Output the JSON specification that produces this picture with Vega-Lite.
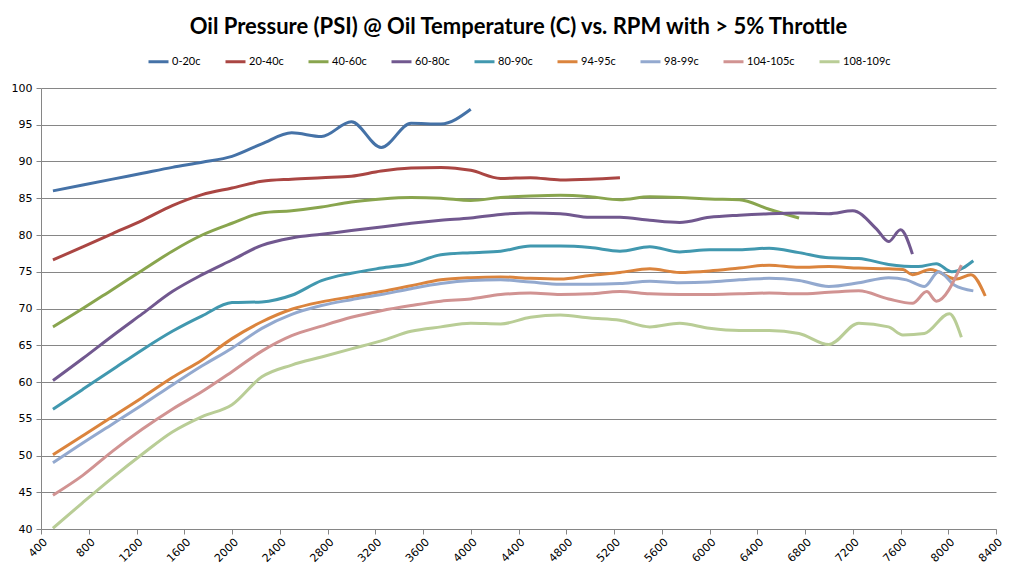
{
  "$schema": "https://vega.github.io/schema/vega-lite/v6.json",
  "title": {
    "text": "Oil Pressure (PSI) @ Oil Temperature (C) vs. RPM with > 5% Throttle",
    "font": "Lato",
    "fontSize": 22,
    "fontWeight": "bold",
    "color": "black",
    "anchor": "middle",
    "offset": 11
  },
  "config": {
    "background": "white",
    "view": {"stroke": null},
    "axis": {
      "labelFont": "DejaVu Sans",
      "labelFontSize": 11,
      "labelColor": "#000000",
      "domainColor": "#868686",
      "tickColor": "#868686",
      "gridColor": "#868686",
      "tickSize": 5,
      "title": null
    },
    "legend": {
      "labelFont": "Lato",
      "labelFontSize": 11,
      "labelColor": "#000000",
      "layout": {"top": {"anchor": "middle"}}
    }
  },
  "autosize": {"type": "none"},
  "padding": {"left": 41, "top": 88, "right": 29, "bottom": 48},
  "width": 955,
  "height": 441,
  "data": {
    "values": [
      {"s": "0-20c", "rpm": 500, "psi": 86.0},
      {"s": "0-20c", "rpm": 750, "psi": 86.8},
      {"s": "0-20c", "rpm": 1000, "psi": 87.6},
      {"s": "0-20c", "rpm": 1250, "psi": 88.4},
      {"s": "0-20c", "rpm": 1500, "psi": 89.2},
      {"s": "0-20c", "rpm": 1750, "psi": 89.9},
      {"s": "0-20c", "rpm": 2000, "psi": 90.7},
      {"s": "0-20c", "rpm": 2250, "psi": 92.4},
      {"s": "0-20c", "rpm": 2500, "psi": 93.9},
      {"s": "0-20c", "rpm": 2750, "psi": 93.4},
      {"s": "0-20c", "rpm": 3000, "psi": 95.4},
      {"s": "0-20c", "rpm": 3250, "psi": 91.9},
      {"s": "0-20c", "rpm": 3500, "psi": 95.2},
      {"s": "0-20c", "rpm": 3750, "psi": 95.1},
      {"s": "0-20c", "rpm": 4000, "psi": 97.1},

      {"s": "20-40c", "rpm": 500, "psi": 76.6},
      {"s": "20-40c", "rpm": 750, "psi": 78.4},
      {"s": "20-40c", "rpm": 1000, "psi": 80.2},
      {"s": "20-40c", "rpm": 1250, "psi": 82.0},
      {"s": "20-40c", "rpm": 1500, "psi": 84.0},
      {"s": "20-40c", "rpm": 1750, "psi": 85.5},
      {"s": "20-40c", "rpm": 2000, "psi": 86.4},
      {"s": "20-40c", "rpm": 2250, "psi": 87.3},
      {"s": "20-40c", "rpm": 2500, "psi": 87.6},
      {"s": "20-40c", "rpm": 2750, "psi": 87.8},
      {"s": "20-40c", "rpm": 3000, "psi": 88.0},
      {"s": "20-40c", "rpm": 3250, "psi": 88.7},
      {"s": "20-40c", "rpm": 3500, "psi": 89.1},
      {"s": "20-40c", "rpm": 3750, "psi": 89.2},
      {"s": "20-40c", "rpm": 4000, "psi": 88.8},
      {"s": "20-40c", "rpm": 4250, "psi": 87.7},
      {"s": "20-40c", "rpm": 4500, "psi": 87.8},
      {"s": "20-40c", "rpm": 4750, "psi": 87.5},
      {"s": "20-40c", "rpm": 5000, "psi": 87.6},
      {"s": "20-40c", "rpm": 5250, "psi": 87.8},

      {"s": "40-60c", "rpm": 500, "psi": 67.5},
      {"s": "40-60c", "rpm": 750, "psi": 70.0},
      {"s": "40-60c", "rpm": 1000, "psi": 72.6},
      {"s": "40-60c", "rpm": 1250, "psi": 75.2},
      {"s": "40-60c", "rpm": 1500, "psi": 77.8},
      {"s": "40-60c", "rpm": 1750, "psi": 80.0},
      {"s": "40-60c", "rpm": 2000, "psi": 81.6},
      {"s": "40-60c", "rpm": 2250, "psi": 83.0},
      {"s": "40-60c", "rpm": 2500, "psi": 83.3},
      {"s": "40-60c", "rpm": 2750, "psi": 83.8},
      {"s": "40-60c", "rpm": 3000, "psi": 84.5},
      {"s": "40-60c", "rpm": 3250, "psi": 84.9},
      {"s": "40-60c", "rpm": 3500, "psi": 85.1},
      {"s": "40-60c", "rpm": 3750, "psi": 85.0},
      {"s": "40-60c", "rpm": 4000, "psi": 84.7},
      {"s": "40-60c", "rpm": 4250, "psi": 85.1},
      {"s": "40-60c", "rpm": 4500, "psi": 85.3},
      {"s": "40-60c", "rpm": 4750, "psi": 85.4},
      {"s": "40-60c", "rpm": 5000, "psi": 85.2},
      {"s": "40-60c", "rpm": 5250, "psi": 84.8},
      {"s": "40-60c", "rpm": 5500, "psi": 85.2},
      {"s": "40-60c", "rpm": 5750, "psi": 85.1},
      {"s": "40-60c", "rpm": 6000, "psi": 84.9},
      {"s": "40-60c", "rpm": 6250, "psi": 84.8},
      {"s": "40-60c", "rpm": 6500, "psi": 83.5},
      {"s": "40-60c", "rpm": 6750, "psi": 82.3},

      {"s": "60-80c", "rpm": 500, "psi": 60.2},
      {"s": "60-80c", "rpm": 750, "psi": 63.2},
      {"s": "60-80c", "rpm": 1000, "psi": 66.3},
      {"s": "60-80c", "rpm": 1250, "psi": 69.3},
      {"s": "60-80c", "rpm": 1500, "psi": 72.3},
      {"s": "60-80c", "rpm": 1750, "psi": 74.6},
      {"s": "60-80c", "rpm": 2000, "psi": 76.6},
      {"s": "60-80c", "rpm": 2250, "psi": 78.6},
      {"s": "60-80c", "rpm": 2500, "psi": 79.6},
      {"s": "60-80c", "rpm": 2750, "psi": 80.1},
      {"s": "60-80c", "rpm": 3000, "psi": 80.6},
      {"s": "60-80c", "rpm": 3250, "psi": 81.1},
      {"s": "60-80c", "rpm": 3500, "psi": 81.6},
      {"s": "60-80c", "rpm": 3750, "psi": 82.0},
      {"s": "60-80c", "rpm": 4000, "psi": 82.3},
      {"s": "60-80c", "rpm": 4250, "psi": 82.8},
      {"s": "60-80c", "rpm": 4500, "psi": 83.0},
      {"s": "60-80c", "rpm": 4750, "psi": 82.9},
      {"s": "60-80c", "rpm": 5000, "psi": 82.4},
      {"s": "60-80c", "rpm": 5250, "psi": 82.4},
      {"s": "60-80c", "rpm": 5500, "psi": 82.0},
      {"s": "60-80c", "rpm": 5750, "psi": 81.7},
      {"s": "60-80c", "rpm": 6000, "psi": 82.4},
      {"s": "60-80c", "rpm": 6250, "psi": 82.7},
      {"s": "60-80c", "rpm": 6500, "psi": 82.9},
      {"s": "60-80c", "rpm": 6750, "psi": 83.0},
      {"s": "60-80c", "rpm": 7000, "psi": 82.9},
      {"s": "60-80c", "rpm": 7200, "psi": 83.3},
      {"s": "60-80c", "rpm": 7400, "psi": 80.8},
      {"s": "60-80c", "rpm": 7500, "psi": 79.1},
      {"s": "60-80c", "rpm": 7600, "psi": 80.7},
      {"s": "60-80c", "rpm": 7700, "psi": 77.4},

      {"s": "80-90c", "rpm": 500, "psi": 56.3},
      {"s": "80-90c", "rpm": 750, "psi": 59.0},
      {"s": "80-90c", "rpm": 1000, "psi": 61.7},
      {"s": "80-90c", "rpm": 1250, "psi": 64.4},
      {"s": "80-90c", "rpm": 1500, "psi": 66.9},
      {"s": "80-90c", "rpm": 1750, "psi": 69.0},
      {"s": "80-90c", "rpm": 2000, "psi": 70.8},
      {"s": "80-90c", "rpm": 2250, "psi": 70.9},
      {"s": "80-90c", "rpm": 2500, "psi": 71.8},
      {"s": "80-90c", "rpm": 2750, "psi": 73.8},
      {"s": "80-90c", "rpm": 3000, "psi": 74.8},
      {"s": "80-90c", "rpm": 3250, "psi": 75.5},
      {"s": "80-90c", "rpm": 3500, "psi": 76.1},
      {"s": "80-90c", "rpm": 3750, "psi": 77.3},
      {"s": "80-90c", "rpm": 4000, "psi": 77.6},
      {"s": "80-90c", "rpm": 4250, "psi": 77.8},
      {"s": "80-90c", "rpm": 4500, "psi": 78.5},
      {"s": "80-90c", "rpm": 4750, "psi": 78.5},
      {"s": "80-90c", "rpm": 5000, "psi": 78.3},
      {"s": "80-90c", "rpm": 5250, "psi": 77.8},
      {"s": "80-90c", "rpm": 5500, "psi": 78.4},
      {"s": "80-90c", "rpm": 5750, "psi": 77.7},
      {"s": "80-90c", "rpm": 6000, "psi": 78.0},
      {"s": "80-90c", "rpm": 6250, "psi": 78.0},
      {"s": "80-90c", "rpm": 6500, "psi": 78.2},
      {"s": "80-90c", "rpm": 6750, "psi": 77.6},
      {"s": "80-90c", "rpm": 7000, "psi": 76.9},
      {"s": "80-90c", "rpm": 7250, "psi": 76.8},
      {"s": "80-90c", "rpm": 7500, "psi": 76.0},
      {"s": "80-90c", "rpm": 7750, "psi": 75.7},
      {"s": "80-90c", "rpm": 7900, "psi": 76.1},
      {"s": "80-90c", "rpm": 8030, "psi": 75.0},
      {"s": "80-90c", "rpm": 8210, "psi": 76.5},

      {"s": "94-95c", "rpm": 500, "psi": 50.1},
      {"s": "94-95c", "rpm": 750, "psi": 52.7},
      {"s": "94-95c", "rpm": 1000, "psi": 55.3},
      {"s": "94-95c", "rpm": 1250, "psi": 57.9},
      {"s": "94-95c", "rpm": 1500, "psi": 60.6},
      {"s": "94-95c", "rpm": 1750, "psi": 63.0},
      {"s": "94-95c", "rpm": 2000, "psi": 65.9},
      {"s": "94-95c", "rpm": 2250, "psi": 68.2},
      {"s": "94-95c", "rpm": 2500, "psi": 69.9},
      {"s": "94-95c", "rpm": 2750, "psi": 70.9},
      {"s": "94-95c", "rpm": 3000, "psi": 71.6},
      {"s": "94-95c", "rpm": 3250, "psi": 72.3},
      {"s": "94-95c", "rpm": 3500, "psi": 73.1},
      {"s": "94-95c", "rpm": 3750, "psi": 73.9},
      {"s": "94-95c", "rpm": 4000, "psi": 74.2},
      {"s": "94-95c", "rpm": 4250, "psi": 74.3},
      {"s": "94-95c", "rpm": 4500, "psi": 74.1},
      {"s": "94-95c", "rpm": 4750, "psi": 74.0},
      {"s": "94-95c", "rpm": 5000, "psi": 74.5},
      {"s": "94-95c", "rpm": 5250, "psi": 74.9},
      {"s": "94-95c", "rpm": 5500, "psi": 75.4},
      {"s": "94-95c", "rpm": 5750, "psi": 74.9},
      {"s": "94-95c", "rpm": 6000, "psi": 75.1},
      {"s": "94-95c", "rpm": 6250, "psi": 75.5},
      {"s": "94-95c", "rpm": 6500, "psi": 75.9},
      {"s": "94-95c", "rpm": 6750, "psi": 75.6},
      {"s": "94-95c", "rpm": 7000, "psi": 75.7},
      {"s": "94-95c", "rpm": 7250, "psi": 75.5},
      {"s": "94-95c", "rpm": 7500, "psi": 75.4},
      {"s": "94-95c", "rpm": 7620, "psi": 75.3},
      {"s": "94-95c", "rpm": 7700, "psi": 74.6},
      {"s": "94-95c", "rpm": 7850, "psi": 75.3},
      {"s": "94-95c", "rpm": 8070, "psi": 74.0},
      {"s": "94-95c", "rpm": 8190, "psi": 74.6},
      {"s": "94-95c", "rpm": 8310, "psi": 71.7},

      {"s": "98-99c", "rpm": 500, "psi": 49.0},
      {"s": "98-99c", "rpm": 750, "psi": 51.7},
      {"s": "98-99c", "rpm": 1000, "psi": 54.3},
      {"s": "98-99c", "rpm": 1250, "psi": 56.9},
      {"s": "98-99c", "rpm": 1500, "psi": 59.6},
      {"s": "98-99c", "rpm": 1750, "psi": 62.2},
      {"s": "98-99c", "rpm": 2000, "psi": 64.6},
      {"s": "98-99c", "rpm": 2250, "psi": 67.3},
      {"s": "98-99c", "rpm": 2500, "psi": 69.2},
      {"s": "98-99c", "rpm": 2750, "psi": 70.4},
      {"s": "98-99c", "rpm": 3000, "psi": 71.2},
      {"s": "98-99c", "rpm": 3250, "psi": 71.9},
      {"s": "98-99c", "rpm": 3500, "psi": 72.7},
      {"s": "98-99c", "rpm": 3750, "psi": 73.4},
      {"s": "98-99c", "rpm": 4000, "psi": 73.8},
      {"s": "98-99c", "rpm": 4250, "psi": 73.9},
      {"s": "98-99c", "rpm": 4500, "psi": 73.6},
      {"s": "98-99c", "rpm": 4750, "psi": 73.3},
      {"s": "98-99c", "rpm": 5000, "psi": 73.3},
      {"s": "98-99c", "rpm": 5250, "psi": 73.4},
      {"s": "98-99c", "rpm": 5500, "psi": 73.7},
      {"s": "98-99c", "rpm": 5750, "psi": 73.5},
      {"s": "98-99c", "rpm": 6000, "psi": 73.6},
      {"s": "98-99c", "rpm": 6250, "psi": 73.9},
      {"s": "98-99c", "rpm": 6500, "psi": 74.1},
      {"s": "98-99c", "rpm": 6750, "psi": 73.8},
      {"s": "98-99c", "rpm": 7000, "psi": 73.0},
      {"s": "98-99c", "rpm": 7250, "psi": 73.5},
      {"s": "98-99c", "rpm": 7500, "psi": 74.2},
      {"s": "98-99c", "rpm": 7650, "psi": 73.9},
      {"s": "98-99c", "rpm": 7800, "psi": 73.0},
      {"s": "98-99c", "rpm": 7920, "psi": 75.0},
      {"s": "98-99c", "rpm": 8050, "psi": 73.2},
      {"s": "98-99c", "rpm": 8210, "psi": 72.4},

      {"s": "104-105c", "rpm": 500, "psi": 44.6},
      {"s": "104-105c", "rpm": 750, "psi": 47.3},
      {"s": "104-105c", "rpm": 1000, "psi": 50.6},
      {"s": "104-105c", "rpm": 1250, "psi": 53.6},
      {"s": "104-105c", "rpm": 1500, "psi": 56.3},
      {"s": "104-105c", "rpm": 1750, "psi": 58.7},
      {"s": "104-105c", "rpm": 2000, "psi": 61.4},
      {"s": "104-105c", "rpm": 2250, "psi": 64.2},
      {"s": "104-105c", "rpm": 2500, "psi": 66.3},
      {"s": "104-105c", "rpm": 2750, "psi": 67.6},
      {"s": "104-105c", "rpm": 3000, "psi": 68.8},
      {"s": "104-105c", "rpm": 3250, "psi": 69.7},
      {"s": "104-105c", "rpm": 3500, "psi": 70.4},
      {"s": "104-105c", "rpm": 3750, "psi": 71.0},
      {"s": "104-105c", "rpm": 4000, "psi": 71.3},
      {"s": "104-105c", "rpm": 4250, "psi": 71.9},
      {"s": "104-105c", "rpm": 4500, "psi": 72.1},
      {"s": "104-105c", "rpm": 4750, "psi": 71.9},
      {"s": "104-105c", "rpm": 5000, "psi": 72.0},
      {"s": "104-105c", "rpm": 5250, "psi": 72.3},
      {"s": "104-105c", "rpm": 5500, "psi": 72.0},
      {"s": "104-105c", "rpm": 5750, "psi": 71.9},
      {"s": "104-105c", "rpm": 6000, "psi": 71.9},
      {"s": "104-105c", "rpm": 6250, "psi": 72.0},
      {"s": "104-105c", "rpm": 6500, "psi": 72.1},
      {"s": "104-105c", "rpm": 6750, "psi": 72.0},
      {"s": "104-105c", "rpm": 7000, "psi": 72.2},
      {"s": "104-105c", "rpm": 7250, "psi": 72.4},
      {"s": "104-105c", "rpm": 7500, "psi": 71.3},
      {"s": "104-105c", "rpm": 7700, "psi": 70.7},
      {"s": "104-105c", "rpm": 7820, "psi": 72.3},
      {"s": "104-105c", "rpm": 7900, "psi": 71.0},
      {"s": "104-105c", "rpm": 8110, "psi": 75.9},

      {"s": "108-109c", "rpm": 500, "psi": 40.1},
      {"s": "108-109c", "rpm": 750, "psi": 43.6},
      {"s": "108-109c", "rpm": 1000, "psi": 47.0},
      {"s": "108-109c", "rpm": 1250, "psi": 50.2},
      {"s": "108-109c", "rpm": 1500, "psi": 53.2},
      {"s": "108-109c", "rpm": 1750, "psi": 55.3},
      {"s": "108-109c", "rpm": 2000, "psi": 56.9},
      {"s": "108-109c", "rpm": 2250, "psi": 60.7},
      {"s": "108-109c", "rpm": 2500, "psi": 62.3},
      {"s": "108-109c", "rpm": 2750, "psi": 63.4},
      {"s": "108-109c", "rpm": 3000, "psi": 64.5},
      {"s": "108-109c", "rpm": 3250, "psi": 65.6},
      {"s": "108-109c", "rpm": 3500, "psi": 66.9},
      {"s": "108-109c", "rpm": 3750, "psi": 67.5},
      {"s": "108-109c", "rpm": 4000, "psi": 68.0},
      {"s": "108-109c", "rpm": 4250, "psi": 67.9},
      {"s": "108-109c", "rpm": 4500, "psi": 68.8},
      {"s": "108-109c", "rpm": 4750, "psi": 69.1},
      {"s": "108-109c", "rpm": 5000, "psi": 68.7},
      {"s": "108-109c", "rpm": 5250, "psi": 68.4},
      {"s": "108-109c", "rpm": 5500, "psi": 67.5},
      {"s": "108-109c", "rpm": 5750, "psi": 68.0},
      {"s": "108-109c", "rpm": 6000, "psi": 67.3},
      {"s": "108-109c", "rpm": 6250, "psi": 67.0},
      {"s": "108-109c", "rpm": 6500, "psi": 67.0},
      {"s": "108-109c", "rpm": 6750, "psi": 66.6},
      {"s": "108-109c", "rpm": 7000, "psi": 65.1},
      {"s": "108-109c", "rpm": 7250, "psi": 68.0},
      {"s": "108-109c", "rpm": 7500, "psi": 67.5},
      {"s": "108-109c", "rpm": 7620, "psi": 66.4},
      {"s": "108-109c", "rpm": 7800, "psi": 66.6},
      {"s": "108-109c", "rpm": 8010, "psi": 69.3},
      {"s": "108-109c", "rpm": 8110, "psi": 66.1}
    ]
  },
  "mark": {"type": "line", "interpolate": "monotone", "strokeWidth": 3, "clip": true},
  "encoding": {
    "x": {
      "field": "rpm",
      "type": "quantitative",
      "scale": {"domain": [400, 8400], "nice": false, "zero": false},
      "axis": {
        "values": [400, 800, 1200, 1600, 2000, 2400, 2800, 3200, 3600, 4000, 4400, 4800, 5200, 5600, 6000, 6400, 6800, 7200, 7600, 8000, 8400],
        "format": "d",
        "labelAngle": -45,
        "grid": false,
        "labelPadding": 2,
        "labelFlush": false,
        "labelOverlap": false
      }
    },
    "y": {
      "field": "psi",
      "type": "quantitative",
      "scale": {"domain": [40, 100], "nice": false, "zero": false},
      "axis": {
        "values": [40, 45, 50, 55, 60, 65, 70, 75, 80, 85, 90, 95, 100],
        "grid": true,
        "labelPadding": 4,
        "labelFlush": false
      }
    },
    "color": {
      "field": "s",
      "type": "nominal",
      "sort": null,
      "scale": {
        "domain": ["0-20c", "20-40c", "40-60c", "60-80c", "80-90c", "94-95c", "98-99c", "104-105c", "108-109c"],
        "range": ["#4572A7", "#AA4643", "#89A54E", "#71588F", "#4198AF", "#DB843D", "#93A9CF", "#D19392", "#B9CD96"]
      },
      "legend": {
        "title": null,
        "orient": "top",
        "direction": "horizontal",
        "symbolType": "stroke",
        "symbolSize": 400,
        "symbolStrokeWidth": 3,
        "labelOffset": 2,
        "columnPadding": 18,
        "offset": 20
      }
    }
  }
}
